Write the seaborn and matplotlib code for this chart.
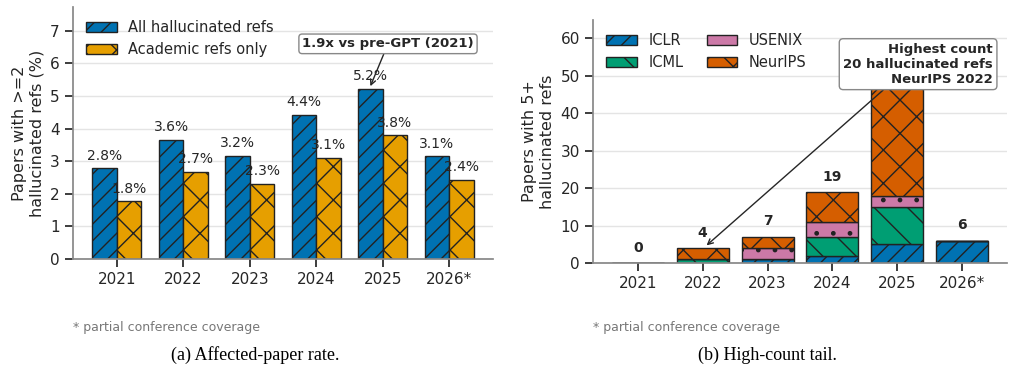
import numpy as np
import pandas as pd
import matplotlib
matplotlib.use("Agg")
import matplotlib.pyplot as plt
import seaborn as sns

# %% data
years = ['2021', '2022', '2023', '2024', '2025', '2026*']
rate_all = [2.78, 3.65, 3.17, 4.42, 5.22, 3.15]
rate_academic = [1.77, 2.68, 2.31, 3.10, 3.79, 2.43]

venues = ['ICLR', 'ICML', 'USENIX', 'NeurIPS']
iclr = [0, 0, 1, 2, 5, 6]
icml = [0, 1, 0, 5, 10, 0]
usenix = [0, 0, 3, 4, 3, 0]
neurips = [0, 3, 3, 8, 30, 0]

BLUE = '#0072B2'
GOLD = '#E69F00'
GREEN = '#009E73'
PINK = '#CC79A7'
VERM = '#D55E00'
EDGE = '#222222'
TXT = '#262626'

sns.set_theme(style='ticks')
plt.rcParams['font.family'] = ['DejaVu Sans']
plt.rcParams['hatch.color'] = EDGE
plt.rcParams['hatch.linewidth'] = 1.0
plt.rcParams['text.color'] = TXT
plt.rcParams['axes.labelcolor'] = TXT
plt.rcParams['xtick.color'] = TXT
plt.rcParams['ytick.color'] = TXT

fig = plt.figure(figsize=(10.14, 3.75), dpi=100)
ax1 = fig.add_axes([73/1014, 1-259/375, 420/1014, 252/375])
ax2 = fig.add_axes([593/1014, 1-263/375, 414/1014, 243/375])

# %% (a) affected-paper rate
rate = pd.DataFrame({'year': years * 2,
                     'value': rate_all + rate_academic,
                     'series': ['All hallucinated refs'] * 6 + ['Academic refs only'] * 6})
sns.barplot(data=rate, x='year', y='value', hue='series', ax=ax1,
            palette=[BLUE, GOLD], width=0.74, gap=0, edgecolor=EDGE,
            linewidth=1.0, saturation=1, legend=True)
for cont, hatch in zip(ax1.containers, ['//', 'x']):
    for bar in cont:
        bar.set_hatch(hatch)
    for bar in cont:
        h = bar.get_height()
        ax1.annotate(f'{h:.1f}%', (bar.get_x() + bar.get_width()/2, h),
                     xytext=(0, 4), textcoords='offset points',
                     ha='center', va='bottom', fontsize=10)
ax1.set_ylim(0, 7.73)
ax1.set_xlim(-0.66, 5.66)
ax1.set_xlabel('')
ax1.set_ylabel('Papers with >=2\nhallucinated refs (%)', fontsize=11.5)
ax1.yaxis.grid(True, color='#e4e4e4', linewidth=1)
ax1.set_axisbelow(True)
handles, labels = ax1.get_legend_handles_labels()
for hnd, hatch in zip(handles, ['//', 'x']):
    hnd.set_hatch(hatch)
ax1.legend(handles, labels, loc='upper left', frameon=False, fontsize=10.5,
           bbox_to_anchor=(0.0, 1.0), handlelength=2.1, handleheight=0.7)
ax1.annotate('1.9x vs pre-GPT (2021)', xy=(3.815, 5.3), xytext=(4.08, 6.6),
             ha='center', va='center', fontsize=9.5, fontweight='bold',
             bbox=dict(boxstyle='round,pad=0.25', fc='white', ec='#888888'),
             arrowprops=dict(arrowstyle='->', color=TXT, lw=1.0, shrinkA=0, shrinkB=0))

# %% (b) high-count tail
x = np.arange(len(years))
bottom = np.zeros(len(years))
for vals, col, hatch, name in zip([iclr, icml, usenix, neurips],
                                  [BLUE, GREEN, PINK, VERM],
                                  ['//', '\\', '.', 'x'], venues):
    ax2.bar(x, vals, width=0.8, bottom=bottom, color=col, edgecolor=EDGE,
            linewidth=1.0, hatch=hatch, label=name)
    bottom += np.array(vals)
for xi, tot in zip(x, bottom):
    ax2.annotate(f'{int(tot)}', (xi, tot), xytext=(0, 6), textcoords='offset points',
                 ha='center', va='bottom', fontsize=10, fontweight='bold')
ax2.set_xticks(x)
ax2.set_xticklabels(years)
ax2.set_ylim(0, 64.9)
ax2.set_xlim(-0.69, 5.69)
ax2.set_ylabel('Papers with 5+\nhallucinated refs', fontsize=11.5)
ax2.yaxis.grid(True, color='#e4e4e4', linewidth=1)
ax2.set_axisbelow(True)
ax2.legend(loc='upper left', ncol=2, frameon=False, fontsize=10.5,
           bbox_to_anchor=(0.0, 1.0), handlelength=2.1, handleheight=0.7,
           columnspacing=1.6)
ax2.annotate('Highest count\n20 hallucinated refs\nNeurIPS 2022',
             xy=(1.06, 4.7), xytext=(4.32, 53.1), ha='center', va='center',
             multialignment='right', fontsize=9.5, fontweight='bold',
             bbox=dict(boxstyle='round,pad=0.3', fc='white', ec='#888888'),
             arrowprops=dict(arrowstyle='->', color=TXT, lw=1.0, shrinkA=0, shrinkB=0,
                             relpos=(0.3, 0.0)),
             zorder=5)

for ax in (ax1, ax2):
    sns.despine(ax=ax)
    ax.tick_params(labelsize=11)
    for sp in ax.spines.values():
        sp.set_color('#888888')

# %% footnotes and captions
for xf in (73, 593):
    fig.text(xf/1014, 1-327/375, '* partial conference coverage', fontsize=9,
             color='#777777', va='center')
fig.text(255/1014, 1-355/375, '(a) Affected-paper rate.', fontsize=13,
         family='Liberation Serif', color='black', ha='center', va='center')
fig.text(767/1014, 1-355/375, '(b) High-count tail.', fontsize=13,
         family='Liberation Serif', color='black', ha='center', va='center')

plt.savefig('out.png', dpi=100)
